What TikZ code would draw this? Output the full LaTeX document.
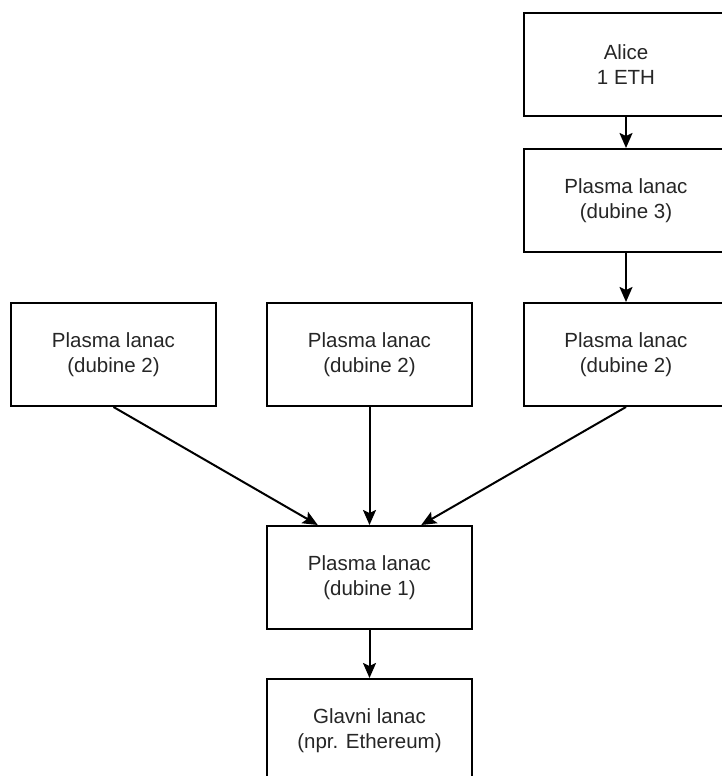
\documentclass[tikz,border=0pt]{standalone}
\usepackage{fontspec}
\setmainfont{Liberation Sans}
\usetikzlibrary{arrows.meta,calc}
\begin{document}
\begin{tikzpicture}[x=1pt,y=-1pt,
  box/.style={draw=black,line width=2pt,fill=white,minimum width=205pt,minimum height=103pt,
    align=center,inner sep=0pt,font=\fontsize{20.5pt}{24.5pt}\selectfont,text=black!85},
  conn/.style={line width=2pt,-{Stealth[length=15pt,width=13pt,inset=3pt]}}]
\useasboundingbox (0,0) rectangle (722,776);
\clip (0,0) rectangle (722,776);
\node[box] (alice) at (626,64.5) {Alice\\ 1 ETH};
\node[box] (d3) at (626,200.5) {Plasma lanac\\(dubine 3)};
\node[box] (d2a) at (113.5,354.5) {Plasma lanac\\(dubine 2)};
\node[box] (d2b) at (369.5,354.5) {Plasma lanac\\(dubine 2)};
\node[box] (d2c) at (626,354.5) {Plasma lanac\\(dubine 2)};
\node[box] (d1) at (369.5,577.5) {Plasma lanac\\(dubine 1)};
\node[box] (main) at (369.5,730.5) {Glavni lanac\\(npr. Ethereum)};
\draw[conn] (alice.south) -- (d3.north);
\draw[conn] (d3.south) -- (d2c.north);
\draw[conn] (d2a.south) -- ($(d1.north west)!0.25!(d1.north east)$);
\draw[conn] (d2b.south) -- (d1.north);
\draw[conn] (d2c.south) -- ($(d1.north west)!0.75!(d1.north east)$);
\draw[conn] (d1.south) -- (main.north);
\end{tikzpicture}
\end{document}
